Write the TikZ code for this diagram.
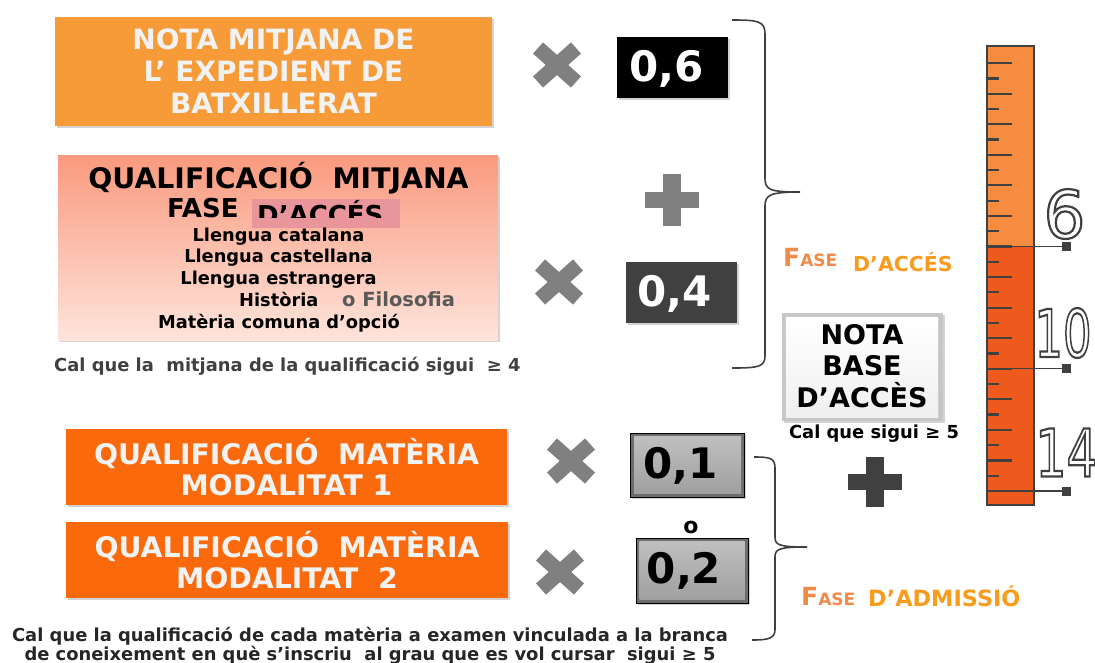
\documentclass[tikz,border=0pt]{standalone}
\usepackage{fontspec}
\setmainfont{DejaVu Sans}
\usetikzlibrary{shadows}
\definecolor{orA}{HTML}{F79A38}
\definecolor{orB}{HTML}{FA6A0C}
\definecolor{salT}{HTML}{F99A7E}
\definecolor{salB}{HTML}{FEE4DB}
\definecolor{txW}{HTML}{F2F2F2}
\definecolor{grX}{HTML}{808080}
\definecolor{dk}{HTML}{404040}
\definecolor{ruL}{HTML}{F68C40}
\definecolor{ruD}{HTML}{EE5A1E}
\definecolor{faseC}{HTML}{F08A48}
\definecolor{dacC}{HTML}{F99B1C}
\definecolor{pinkR}{HTML}{E8959B}
\definecolor{grF}{HTML}{595959}
\newcommand\outnum[2]{\scalebox{#1}[1]{\fontsize{66}{66}\selectfont\special{pdf:literal 1 Tr 2.2 w}#2\special{pdf:literal 0 Tr}}}
\newcommand\smc[1]{{\fontsize{25}{25}\selectfont F}{\fontsize{17}{17}\selectfont #1}}
\begin{document}
\begin{tikzpicture}[x=1pt,y=-1pt,
  sh/.style={drop shadow={opacity=0.35,shadow xshift=1.5pt,shadow yshift=-2pt}},
  hbox/.style={rectangle, inner sep=0pt, sh, text=txW, align=center},
  numbox/.style={rectangle, inner sep=0pt, sh},
  nfont/.style={font=\fontsize{42}{42}\selectfont\bfseries},
  blk/.style={inner sep=0pt, font=\fontsize{28.3}{28.3}\selectfont\bfseries},
  lst/.style={inner sep=0pt, font=\fontsize{17.8}{17.8}\selectfont\bfseries},
  captxt/.style={inner sep=0pt, font=\fontsize{17.9}{17.9}\selectfont\bfseries},
  xmark/.style={draw=grX, line width=15pt},
  brace/.style={draw=dk, line width=1.6pt},
  tick/.style={draw=dk, line width=2.2pt},
]
\useasboundingbox (0,0) rectangle (1095,662);

% ---------- box 1
\node[hbox, fill=orA, minimum width=437pt, minimum height=109pt,
      font=\fontsize{28}{32}\selectfont\bfseries] (b1) at (273.5,71)
      {NOTA MITJANA DE\\L’ EXPEDIENT DE\\BATXILLERAT};

% ---------- box 2
\node[numbox, minimum width=440pt, minimum height=185pt, top color=salT, bottom color=salB] (b2) at (278,247.5) {};
\node[blk, anchor=base] (h2) at (278.5,188) {QUALIFICACIÓ~~MITJANA};
\node[inner sep=0pt, font=\fontsize{26}{26}\selectfont\bfseries, anchor=base west] (fase2) at (167,217) {FASE};
\node[fill=pinkR, inner sep=0pt, minimum width=148pt, minimum height=29pt] (pk) at (326,213.5) {};
\begin{scope}
  \clip (252,199) rectangle (400,217);
  \node[inner sep=0pt, text depth=0pt, font=\fontsize{26}{26}\selectfont\bfseries, anchor=base west] (dac2) at (257,224) {D’ACCÉS};
\end{scope}
\node[lst, anchor=base] (l1) at (278.5,241.7) {Llengua catalana};
\node[lst, anchor=base] (l2) at (278.5,262.8) {Llengua castellana};
\node[lst, anchor=base] (l3) at (278.5,284.3) {Llengua estrangera};
\node[lst, anchor=base west] (l4) at (239,306.5) {Història};
\node[inner sep=0pt, anchor=base west, text=grF, font=\fontsize{19.5}{19.5}\selectfont\bfseries] (l4b) at (342,306.5) {o Filosofia};
\node[lst, anchor=base] (l5) at (279,328) {Matèria comuna d’opció};
\node[captxt, anchor=base west, text=dk] (c1) at (54,371) {Cal que la~~mitjana de la qualificació sigui~~≥ 4};

% ---------- boxes 3 and 4
\node[hbox, fill=orB, minimum width=441pt, minimum height=76pt,
      font=\fontsize{28.3}{31.5}\selectfont\bfseries] (b3) at (286.5,467)
      {QUALIFICACIÓ~~MATÈRIA\\MODALITAT 1};
\node[hbox, fill=orB, minimum width=442pt, minimum height=76pt,
      font=\fontsize{28.3}{31.5}\selectfont\bfseries] (b4) at (287,560)
      {QUALIFICACIÓ~~MATÈRIA\\MODALITAT~~2};
\node[captxt, anchor=base, text=black!85] (c2) at (370,641)
      {Cal que la qualificació de cada matèria a examen vinculada a la branca};
\node[captxt, anchor=base, text=black!85] (c3) at (370,660.5)
      {de coneixement en què s’inscriu~~al grau que es vol cursar~~sigui ≥ 5};

% ---------- multiplication signs
\foreach \n/\cx/\cy in {x1/557/65, x2/559/282, x3/571/461, x4/560/572}{
  \coordinate (\n) at (\cx,\cy);
  \draw[xmark] ([shift={(-19,-17)}]\n) -- ([shift={(19,17)}]\n);
  \draw[xmark] ([shift={(-19,17)}]\n) -- ([shift={(19,-17)}]\n);
}

% ---------- plus signs
\coordinate (p1) at (672,200);
\fill[grX] ([shift={(-27,-8)}]p1) rectangle ([shift={(27,8)}]p1);
\fill[grX] ([shift={(-9,-26)}]p1) rectangle ([shift={(9,26)}]p1);
\coordinate (p2) at (875,482);
\fill[dk] ([shift={(-27,-8)}]p2) rectangle ([shift={(27,8)}]p2);
\fill[dk] ([shift={(-9,-25)}]p2) rectangle ([shift={(9,25)}]p2);

% ---------- weight boxes
\node[numbox, fill=black, minimum width=111pt, minimum height=61pt] (n6) at (672.5,67.5) {};
\node[nfont, text=white, inner sep=0pt] (t6) at ([xshift=-6pt,yshift=-1pt]n6.center) {0,6};
\node[numbox, fill=dk, minimum width=111pt, minimum height=61pt] (n4) at (681.5,292.5) {};
\node[nfont, text=white, inner sep=0pt] (t4) at ([xshift=-7pt,yshift=-1pt]n4.center) {0,4};

\node[numbox, fill=grX!85!black, draw=black, line width=1pt, minimum width=114pt, minimum height=64pt] (n1) at (687.5,465) {};
\shade[top color=gray!50, bottom color=gray!75] ([shift={(4,-4)}]n1.south west) rectangle ([shift={(-4,4)}]n1.north east);
\node[nfont, text=black, inner sep=0pt] (t1) at ([xshift=-7pt,yshift=-1pt]n1.center) {0,1};
\node[inner sep=0pt, font=\fontsize{22}{22}\selectfont\bfseries] (o) at (691,527) {o};
\node[numbox, fill=grX!85!black, draw=black, line width=1pt, minimum width=112pt, minimum height=65pt] (n2) at (692,570.5) {};
\shade[top color=gray!50, bottom color=gray!75] ([shift={(4,-4)}]n2.south west) rectangle ([shift={(-4,4)}]n2.north east);
\node[nfont, text=black, inner sep=0pt] (t2) at ([xshift=-8pt,yshift=0pt]n2.center) {0,2};

% ---------- braces
\draw[brace] (732,20) .. controls (758,20) and (765,21) .. (765,34) -- (765,178)
   .. controls (765,190) and (770,192) .. (800,192)
   .. controls (770,192) and (765,195) .. (765,206) -- (765,356)
   .. controls (765,367) and (758,368) .. (732,368);
\draw[brace] (754,457) .. controls (770,457) and (775,458) .. (775,468) -- (775,537)
   .. controls (775,545) and (779,547) .. (807,547)
   .. controls (779,547) and (775,549) .. (775,557) -- (775,629)
   .. controls (775,638) and (770,640) .. (752,640);

% ---------- phase labels
\node[inner sep=0pt, anchor=base west, text=faseC, font=\bfseries] (fa) at (783,266.5) {\smc{ASE}};
\node[inner sep=0pt, anchor=base west, text=dacC, font=\fontsize{20.5}{20.5}\selectfont\bfseries] (fa2) at (853,271) {D’ACCÉS};
\node[inner sep=0pt, anchor=base west, text=faseC, font=\bfseries] (fb) at (801,605) {\smc{ASE}};
\node[inner sep=0pt, anchor=base west, text=dacC, font=\fontsize{22.4}{22.4}\selectfont\bfseries] (fb2) at (868,606.5) {D’ADMISSIÓ};

% ---------- nota base
\node[numbox, fill=gray!45, minimum width=161pt, minimum height=108pt] (nb) at (862.5,367) {};
\shade[top color=white, bottom color=gray!12] ([shift={(4,-4)}]nb.south west) rectangle ([shift={(-5,5)}]nb.north east);
\node[inner sep=0pt, align=center, font=\fontsize{27}{31.5}\selectfont\bfseries] (nbt) at (862,366) {NOTA\\BASE\\D’ACCÈS};
\node[inner sep=0pt, anchor=base, font=\fontsize{17.9}{17.9}\selectfont\bfseries] (c4) at (874,438) {Cal que sigui ≥ 5};

% ---------- ruler
\fill[ruL] (987,46) rectangle (1034,246.5);
\fill[ruD] (987,246.5) rectangle (1034,505);
\foreach \k in {-12,...,16}{
  \pgfmathsetmacro\yy{246.5+15.28*\k}
  \ifodd\k
    \draw[tick] (987,\yy) -- (999,\yy);
  \else
    \draw[tick] (987,\yy) -- (1012,\yy);
  \fi
}
\draw[draw=dk, line width=2.4pt] (987,46) rectangle (1034,505);
\foreach \n/\yy in {m6/246.5, m10/368.7, m14/491}{
  \coordinate (\n) at (1066,\yy);
  \draw[draw=dk, line width=1.3pt] (987,\yy) -- (\n);
  \fill[dk] ([shift={(-4.5,-4.5)}]\n) rectangle ([shift={(4.5,4.5)}]\n);
}
\node[inner sep=0pt, text=dk] (r6) at (1064.5,214) {\outnum{1}{6}};
\node[inner sep=0pt, text=dk] (r10) at (1063,333) {\outnum{0.68}{10}};
\node[inner sep=0pt, text=dk] (r14) at (1066.5,452.5) {\outnum{0.74}{14}};
\end{tikzpicture}
\end{document}
